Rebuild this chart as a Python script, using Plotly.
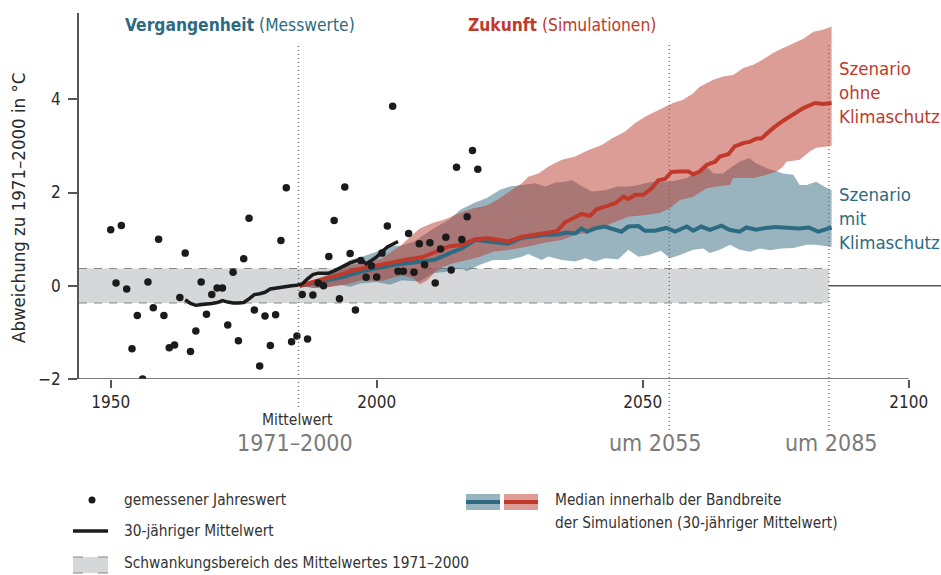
import plotly.graph_objects as go

# ---------------- data ----------------
obs_years = list(range(1950, 2020))
obs_values = [1.20, 0.06, 1.29, -0.07, -1.35, -0.64, -2.00, 0.08, -0.47, 1.00,
              -0.64, -1.33, -1.27, -0.25, 0.70, -1.41, -0.97, 0.08, -0.61, -0.19,
              -0.05, -0.05, -0.84, 0.29, -1.18, 0.58, 1.45, -0.52, -1.72, -0.65,
              -1.28, -0.62, 0.97, 2.10, -1.20, -1.08, -0.19, -1.14, -0.20, 0.06,
              0.00, 0.63, 1.40, -0.28, 2.12, 0.69, -0.52, 0.54, 0.18, 0.43,
              0.19, 0.70, 1.28, 3.85, 0.31, 0.31, 1.12, 0.29, 0.90, 0.45,
              0.92, 0.06, 0.79, 1.04, 0.34, 2.54, 0.99, 1.48, 2.90, 2.50]

mean_years = list(range(1964, 2005))
mean_values = [-0.30, -0.38, -0.42, -0.41, -0.39, -0.38, -0.36, -0.32, -0.35, -0.37,
               -0.37, -0.36, -0.28, -0.19, -0.17, -0.14, -0.07, -0.05, -0.03, -0.01,
               0.00, 0.01, 0.04, 0.15, 0.24, 0.27, 0.27, 0.27, 0.32, 0.38,
               0.45, 0.49, 0.53, 0.57, 0.47, 0.55, 0.62, 0.73, 0.83, 0.89, 0.95]

# Scenario with climate protection (teal)
mit_upper_years = [1985.5, 1988, 1991, 1993, 1995, 1997.2, 1999.7, 2002.2, 2004.5, 2007, 2009, 2011,
                   2013.8, 2015.7, 2018.2, 2020.7, 2023.2, 2025, 2027.3, 2029.8, 2031.7, 2033.5,
                   2035.4, 2036.7, 2038.5, 2040.4, 2042.9, 2045.3, 2047.3, 2049.2, 2051.7, 2054.2,
                   2056.1, 2058.3, 2060.2, 2062, 2063.3, 2065.1, 2066.4, 2068.2, 2070, 2071.3,
                   2073.3, 2075.2, 2076.4, 2078.3, 2079.5, 2080.8, 2082.6, 2084.1, 2085.5]
mit_upper = [0.0, 0.10, 0.25, 0.40, 0.55, 0.62, 0.72, 0.85, 0.86, 0.95, 1.10, 1.25,
             1.43, 1.63, 1.77, 1.88, 2.06, 2.13, 2.16, 2.20, 2.13, 2.21,
             2.23, 2.27, 2.14, 2.02, 2.05, 2.13, 2.13, 2.16, 2.23, 2.23,
             2.25, 2.31, 2.45, 2.56, 2.41, 2.41, 2.52, 2.66, 2.74, 2.63,
             2.52, 2.45, 2.41, 2.38, 2.16, 2.16, 2.23, 2.13, 2.05]
mit_lower_years = [1985.5, 1988, 1991, 1993, 1995, 1997, 2000, 2002.5, 2004.7, 2006.5, 2008.1,
                   2010.6, 2013, 2015.7, 2016.9, 2019.4, 2021.9, 2024.7, 2027.3, 2028.5, 2031,
                   2032.3, 2034.8, 2037.3, 2039.2, 2041, 2042.9, 2045.4, 2047.3, 2049.2, 2051.1,
                   2053.4, 2055.1, 2057, 2059.5, 2061.4, 2062.6, 2064.5, 2066.4, 2068.2, 2070.2,
                   2072, 2074, 2076, 2078.3, 2080.8, 2082.6, 2085.5]
mit_lower = [0.0, -0.05, -0.02, 0.02, -0.02, 0.05, 0.08, 0.02, 0.12, 0.10, 0.09,
             0.27, 0.30, 0.38, 0.31, 0.45, 0.55, 0.55, 0.62, 0.68, 0.55,
             0.63, 0.55, 0.52, 0.59, 0.52, 0.59, 0.57, 0.77, 0.62, 0.66,
             0.75, 0.59, 0.66, 0.77, 0.80, 0.70, 0.77, 0.88, 0.77, 0.73,
             0.80, 0.76, 0.80, 0.81, 0.88, 0.88, 0.83]
mit_median_years = [1985.5, 1988.4, 1993.4, 1998.4, 2003.4, 2008.5, 2011, 2013.5, 2016, 2018.5,
                    2021, 2023.8, 2024.7, 2027.3, 2031.4, 2033.9, 2035.7, 2037.3, 2038.5, 2039.5,
                    2041, 2042.9, 2044.8, 2046, 2047.3, 2049.2, 2050.4, 2052.3, 2054.4, 2056.1,
                    2058.3, 2059.5, 2061, 2062.6, 2064.8, 2066.3, 2068.2, 2069.5, 2071.3, 2073.1,
                    2075, 2076.8, 2079.3, 2081.2, 2083, 2085.5]
mit_median = [0.0, 0.06, 0.18, 0.34, 0.45, 0.52, 0.56, 0.69, 0.80, 0.98,
              0.95, 0.92, 0.90, 1.03, 1.09, 1.10, 1.14, 1.12, 1.23, 1.16,
              1.23, 1.27, 1.21, 1.16, 1.27, 1.28, 1.18, 1.18, 1.24, 1.16,
              1.27, 1.18, 1.27, 1.20, 1.29, 1.20, 1.16, 1.25, 1.20, 1.24,
              1.26, 1.24, 1.23, 1.25, 1.16, 1.25]

# Scenario without climate protection (red)
ohne_upper_years = [1985.5, 1988.4, 1991.5, 1994, 1997.2, 2000.9, 2003, 2004.5, 2006.3, 2008.1,
                    2010.6, 2012.5, 2015.7, 2018.2, 2020.7, 2023.2, 2025.3, 2027.3, 2028.5, 2030.4,
                    2032.3, 2034.8, 2037.3, 2039.8, 2042.3, 2044.2, 2046.7, 2048.6, 2050.5, 2052.9,
                    2055.7, 2057.6, 2059.5, 2060.7, 2063.3, 2065.1, 2067, 2068.9, 2070.8, 2072.6,
                    2074.5, 2076.4, 2078.3, 2080.2, 2082.1, 2083.9, 2085.5]
ohne_upper = [0.0, 0.14, 0.23, 0.41, 0.50, 0.58, 0.75, 0.86, 1.05, 1.23,
              1.35, 1.41, 1.56, 1.66, 1.72, 1.88, 2.05, 2.20, 2.34, 2.41,
              2.56, 2.70, 2.77, 2.91, 3.02, 3.16, 3.31, 3.49, 3.63, 3.77,
              3.92, 3.99, 4.13, 4.27, 4.42, 4.49, 4.52, 4.67, 4.74, 4.85,
              4.99, 5.10, 5.20, 5.30, 5.45, 5.49, 5.56]
ohne_lower_years = [1985.5, 1988.4, 1991, 1994, 1997.2, 2000.9, 2003.4, 2005, 2006.9, 2008.1,
                    2009.5, 2011, 2012.5, 2014.4, 2017, 2019.4, 2021.9, 2025, 2028.5, 2031.5,
                    2034.8, 2037.3, 2040.4, 2042.5, 2044.2, 2047.3, 2050.5, 2053.2, 2055.1, 2057,
                    2059.5, 2062, 2063.9, 2066.4, 2067, 2070.8, 2073.3, 2075.2, 2076.4, 2077,
                    2079.5, 2081.4, 2082.6, 2085.5]
ohne_lower = [0.0, -0.05, -0.03, 0.02, 0.12, 0.10, 0.19, 0.22, 0.16, 0.03,
              0.12, 0.30, 0.41, 0.48, 0.55, 0.62, 0.73, 0.77, 0.84, 0.92,
              0.98, 1.09, 1.16, 1.25, 1.34, 1.48, 1.52, 1.56, 1.66, 1.84,
              1.91, 2.09, 2.13, 2.16, 2.31, 2.31, 2.38, 2.45, 2.56, 2.66,
              2.70, 2.88, 2.96, 3.00]
ohne_median_years = [1985.5, 1988.4, 1990.9, 1993.4, 1995.9, 1998.4, 2000.9, 2003.4, 2005.9, 2008.5,
                     2011, 2013.5, 2016, 2018.5, 2021, 2023.8, 2024.7, 2027.3, 2029.8, 2032.3,
                     2033.9, 2035.4, 2037.3, 2038.5, 2040.1, 2041.3, 2043.5, 2044.8, 2046.4, 2047.3,
                     2048.6, 2050.1, 2051.7, 2052.9, 2054.2, 2055.4, 2057, 2058.6, 2059.5, 2060.7,
                     2062, 2063.6, 2064.5, 2066.1, 2067.3, 2068.9, 2070.2, 2071.4, 2072.3, 2074.5,
                     2076.4, 2078.3, 2080.2, 2082.4, 2083.9, 2085.5]
ohne_median = [0.0, 0.09, 0.16, 0.25, 0.34, 0.40, 0.45, 0.52, 0.57, 0.61,
               0.73, 0.84, 0.88, 1.00, 1.02, 0.98, 0.95, 1.05, 1.09, 1.15,
               1.17, 1.36, 1.47, 1.54, 1.50, 1.64, 1.72, 1.77, 1.91, 1.86,
               1.95, 1.95, 2.09, 2.26, 2.29, 2.44, 2.45, 2.45, 2.39, 2.45,
               2.59, 2.66, 2.77, 2.82, 2.99, 3.06, 3.09, 3.16, 3.16, 3.38,
               3.54, 3.68, 3.81, 3.92, 3.90, 3.92]

ref_band = [-0.37, 0.37]
ref_year = 1985.3
marker_years = [2055, 2085]
x_ticks = [1950, 2000, 2050, 2100]
y_ticks = [-2, 0, 2, 4]
y_tick_text = ["\u22122", "0", "2", "4"]

# ---------------- style ----------------
FONT = "DejaVu Sans Condensed, Liberation Sans Narrow, Arial Narrow, sans-serif"
TEAL = "#2c6b81"
RED = "#c0392b"
TEAL_FILL = "rgba(70,119,139,0.55)"
RED_FILL = "rgba(186,55,43,0.49)"
AX = "#555555"
GRAYTXT = "#7b7b7b"
TXT = "#2a2a2a"

W, H = 941, 575
L, R, T, B = 79, 941, 13, 379
X0, X1 = 1944.04, 2106.07
Y0, Y1 = -2.0, 5.85


def px(x):
    return (x - L) / (R - L)


def py(y):
    return (B - y) / (B - T)


fig = go.Figure()

# bands
fig.add_trace(go.Scatter(
    x=mit_upper_years + mit_lower_years[::-1], y=mit_upper + mit_lower[::-1],
    fill="toself", fillcolor=TEAL_FILL, line=dict(width=0), mode="lines",
    hoverinfo="skip", showlegend=False))
fig.add_trace(go.Scatter(
    x=ohne_upper_years + ohne_lower_years[::-1], y=ohne_upper + ohne_lower[::-1],
    fill="toself", fillcolor=RED_FILL, line=dict(width=0), mode="lines",
    hoverinfo="skip", showlegend=False))
# medians
fig.add_trace(go.Scatter(x=mit_median_years, y=mit_median, mode="lines",
                         line=dict(color=TEAL, width=4), showlegend=False))
fig.add_trace(go.Scatter(x=ohne_median_years, y=ohne_median, mode="lines",
                         line=dict(color=RED, width=4), showlegend=False))
# observed 30-year mean
fig.add_trace(go.Scatter(x=mean_years, y=mean_values, mode="lines",
                         line=dict(color="#1b1b1b", width=3.5), showlegend=False))
# observed annual values
fig.add_trace(go.Scatter(x=obs_years, y=obs_values, mode="markers",
                         marker=dict(color="#1b1b1b", size=7.5), showlegend=False))

shapes = []
# gray reference band
shapes.append(dict(type="rect", xref="x", yref="y", x0=X0, x1=marker_years[1],
                   y0=ref_band[0], y1=ref_band[1], fillcolor="#d6d7d9",
                   line=dict(width=0), layer="below"))
for yv in ref_band:
    shapes.append(dict(type="line", xref="x", yref="y", x0=X0, x1=marker_years[1],
                       y0=yv, y1=yv, line=dict(color="#8a8a8a", width=1.2, dash="8px,7px"),
                       layer="below"))
# zero line
shapes.append(dict(type="line", xref="paper", yref="y", x0=px(70), x1=1.0, y0=0, y1=0,
                   line=dict(color=AX, width=1.5), layer="below"))
# x axis line
shapes.append(dict(type="line", xref="x", yref="y", x0=X0, x1=2100, y0=Y0, y1=Y0,
                   line=dict(color=AX, width=1.5), layer="above"))
# dotted vertical lines
shapes.append(dict(type="line", xref="x", yref="paper", x0=ref_year, x1=ref_year,
                   y0=py(407), y1=py(46), line=dict(color="#6f6f6f", width=1.4, dash="1px,3px"),
                   layer="above"))
for yr in marker_years:
    shapes.append(dict(type="line", xref="x", yref="paper", x0=yr, x1=yr,
                       y0=py(430), y1=py(43), line=dict(color="#6f6f6f", width=1.4, dash="1px,3px"),
                       layer="above"))

# legend glyphs
shapes.append(dict(type="circle", xref="paper", yref="paper",
                   x0=px(88.5), x1=px(95.5), y0=py(503.5), y1=py(496.5),
                   fillcolor="#1b1b1b", line=dict(width=0)))
shapes.append(dict(type="line", xref="paper", yref="paper", x0=px(73), x1=px(108),
                   y0=py(531), y1=py(531), line=dict(color="#1b1b1b", width=3.5)))
shapes.append(dict(type="rect", xref="paper", yref="paper", x0=px(73), x1=px(108),
                   y0=py(573), y1=py(557), fillcolor="#d6d7d9", line=dict(width=0)))
for yy in (557, 573):
    shapes.append(dict(type="line", xref="paper", yref="paper", x0=px(73), x1=px(108),
                       y0=py(yy), y1=py(yy), line=dict(color="#8a8a8a", width=1.2, dash="10px,15px")))
shapes.append(dict(type="rect", xref="paper", yref="paper", x0=px(466), x1=px(500),
                   y0=py(510), y1=py(494), fillcolor="rgb(153,180,191)", line=dict(width=0)))
shapes.append(dict(type="rect", xref="paper", yref="paper", x0=px(504), x1=px(538),
                   y0=py(510), y1=py(494), fillcolor="rgb(221,157,151)", line=dict(width=0)))
shapes.append(dict(type="line", xref="paper", yref="paper", x0=px(466), x1=px(500),
                   y0=py(502), y1=py(502), line=dict(color=TEAL, width=4)))
shapes.append(dict(type="line", xref="paper", yref="paper", x0=px(504), x1=px(538),
                   y0=py(502), y1=py(502), line=dict(color=RED, width=4)))

ann = []


def text(x, y, s, size, color, xanchor="left", yanchor="middle", align="left", angle=0):
    ann.append(dict(x=px(x), y=py(y), xref="paper", yref="paper", text=s, showarrow=False,
                    xanchor=xanchor, yanchor=yanchor, align=align, textangle=angle,
                    font=dict(family=FONT, size=size, color=color)))


text(123, 25, "<b>Vergangenheit</b> (Messwerte)", 17.3, TEAL)
text(466, 25, "<b>Zukunft</b> (Simulationen)", 17.3, RED)
text(837, 92, "Szenario<br>ohne<br>Klimaschutz", 18.5, RED)
text(837, 219, "Szenario<br>mit<br>Klimaschutz", 18.5, TEAL)
text(18, 208, "Abweichung zu 1971\u20132000 in \u00b0C", 18.5, TXT, xanchor="center", angle=-90)
text(297, 420, "Mittelwert", 15.5, "#333333", xanchor="center")
text(295, 443, "1971\u20132000", 23, GRAYTXT, xanchor="center")
text(655, 443, "um 2055", 23, GRAYTXT, xanchor="center")
text(831, 443, "um 2085", 23, GRAYTXT, xanchor="center")
text(122, 500, "gemessener Jahreswert", 15.3, "#333333")
text(122, 531, "30-j\u00e4hriger Mittelwert", 15.3, "#333333")
text(122, 563, "Schwankungsbereich des Mittelwertes 1971\u20132000", 15.3, "#333333")
text(553, 500, "Median innerhalb der Bandbreite", 15.3, "#333333")
text(553, 523, "der Simulationen (30-j\u00e4hriger Mittelwert)", 15.3, "#333333")

fig.update_layout(
    width=W, height=H,
    margin=dict(l=L, r=W - R, t=T, b=H - B),
    paper_bgcolor="white", plot_bgcolor="white",
    font=dict(family=FONT, size=17, color=TXT),
    showlegend=False,
    shapes=shapes, annotations=ann,
    xaxis=dict(range=[X0, X1], showgrid=False, zeroline=False, showline=False,
               tickvals=x_ticks, ticks="outside", ticklen=8, tickwidth=1.5, tickcolor=AX,
               tickfont=dict(size=17, color=TXT), fixedrange=True),
    yaxis=dict(range=[Y0, Y1], showgrid=False, zeroline=False, showline=True,
               linecolor=AX, linewidth=1.5,
               tickvals=y_ticks, ticktext=y_tick_text, ticks="outside", ticklen=9,
               tickwidth=1.5, tickcolor=AX, tickfont=dict(size=17, color=TXT),
               ticklabelstandoff=4, fixedrange=True),
)

fig.write_html("out.html", config={"displayModeBar": False},
               post_script="document.body.style.margin='0';document.body.style.padding='0';")
